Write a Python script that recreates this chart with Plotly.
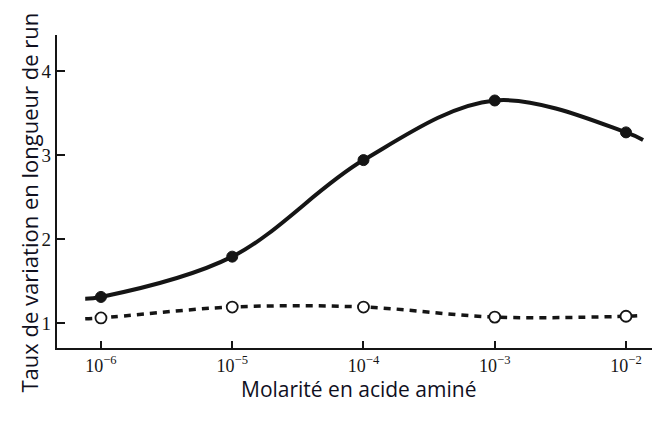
import plotly.graph_objects as go

# Molarité (M) des points mesurés
molarite = [1e-6, 1e-5, 1e-4, 1e-3, 1e-2]
taux_plein = [1.31, 1.79, 2.94, 3.65, 3.27]   # courbe pleine, points noirs
taux_vide = [1.06, 1.19, 1.19, 1.07, 1.08]    # courbe tiretée, points blancs

# prolongement des courbes au-delà du premier et du dernier point
debut_x, fin_x = 10 ** -6.12, 10 ** -1.87
plein_debut, plein_fin = 1.29, 3.18
vide_debut, vide_fin = 1.05, 1.09

tick_x = [1e-6, 1e-5, 1e-4, 1e-3, 1e-2]
tick_x_text = ['10<sup>−6</sup>', '10<sup>−5</sup>', '10<sup>−4</sup>',
               '10<sup>−3</sup>', '10<sup>−2</sup>']
tick_y = [1, 2, 3, 4]

INK = '#151515'
TXT = '#10101e'
SERIF = 'Liberation Serif, Times New Roman, serif'
SANS = 'Open Sans, Noto Sans, sans-serif'

fig = go.Figure()

fig.add_trace(go.Scatter(
    x=[debut_x] + molarite + [fin_x], y=[plein_debut] + taux_plein + [plein_fin],
    mode='lines', line=dict(color=INK, width=4, shape='spline', smoothing=1.0),
    hoverinfo='skip',
))
fig.add_trace(go.Scatter(
    x=[debut_x] + molarite + [fin_x], y=[vide_debut] + taux_vide + [vide_fin],
    mode='lines', line=dict(color=INK, width=3.5, dash='7px,6px', shape='spline'),
    hoverinfo='skip',
))
fig.add_trace(go.Scatter(
    x=molarite, y=taux_plein, mode='markers',
    marker=dict(size=11, color=INK, line=dict(color=INK, width=1)),
    hovertemplate='%{x:.0e} M<br>%{y:.2f}<extra></extra>',
))
fig.add_trace(go.Scatter(
    x=molarite, y=taux_vide, mode='markers',
    marker=dict(size=11, color='white', line=dict(color=INK, width=1.8)),
    hovertemplate='%{x:.0e} M<br>%{y:.2f}<extra></extra>',
))

# la page ajoute 8 px de marge autour de la figure
fig.update_layout(
    width=652, height=413,
    paper_bgcolor='white', plot_bgcolor='white',
    margin=dict(l=49, r=0, t=27, b=73),
    showlegend=False,
    font=dict(family=SERIF, color=INK),
    annotations=[
        dict(text='Molarité en acide aminé', xref='paper', yref='paper',
             x=0.5, y=0, xanchor='center', yanchor='middle', yshift=-41,
             showarrow=False, font=dict(family=SANS, size=21, color=TXT)),
        dict(text='Taux de variation en longueur de run', xref='paper', yref='paper',
             x=0, y=0.5, xanchor='center', yanchor='middle', xshift=-29, yshift=-11,
             textangle=-90, showarrow=False, font=dict(family=SANS, size=22, color=TXT)),
    ],
)
fig.update_xaxes(
    type='log', range=[-6.335, -1.741], automargin=False,
    tickvals=tick_x, ticktext=tick_x_text,
    ticks='inside', ticklen=7, tickwidth=1.5, tickcolor=INK,
    tickfont=dict(family=SERIF, size=18, color=INK),
    showline=True, linecolor=INK, linewidth=1.8,
    showgrid=False, zeroline=False,
)
fig.update_yaxes(
    range=[0.702, 4.43], automargin=False,
    tickvals=tick_y,
    ticks='inside', ticklen=8, tickwidth=1.5, tickcolor=INK,
    tickfont=dict(family=SERIF, size=19, color=INK),
    showline=True, linecolor=INK, linewidth=2.2,
    showgrid=False, zeroline=False,
)

fig.write_html('out.html')
